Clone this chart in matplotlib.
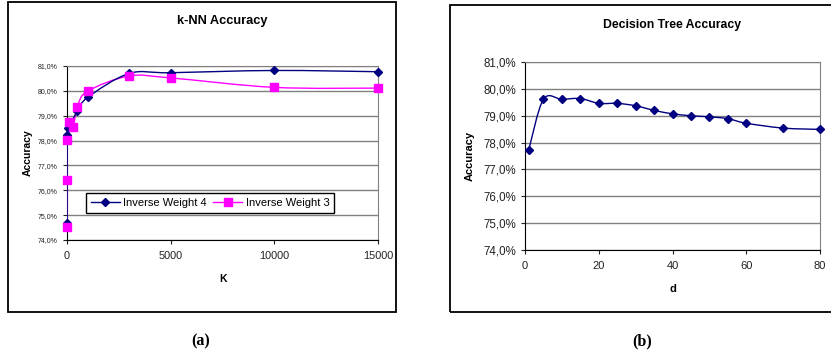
import matplotlib
matplotlib.use("Agg")
import matplotlib.pyplot as plt
import numpy as np
from matplotlib.path import Path
from matplotlib.patches import PathPatch, Rectangle
from matplotlib.lines import Line2D
from matplotlib.ticker import FuncFormatter

plt.rcParams['font.family'] = ['Liberation Sans', 'DejaVu Sans']

# k-NN data
k_w4 = [1, 10, 50, 500, 1000, 3000, 5000, 10000, 15000]
acc_w4 = [74.67, 78.21, 78.5, 79.17, 79.74, 80.70, 80.73, 80.82, 80.77]
k_w3 = [1, 5, 10, 100, 300, 500, 1000, 3000, 5000, 10000, 15000]
acc_w3 = [74.51, 76.40, 78.02, 78.74, 78.55, 79.37, 79.99, 80.60, 80.52, 80.14, 80.11]

# decision tree data
depth = [1, 5, 10, 15, 20, 25, 30, 35, 40, 45, 50, 55, 60, 70, 80]
acc_dt = [77.72, 79.61, 79.61, 79.64, 79.46, 79.46, 79.37, 79.20, 79.07,
          79.00, 78.96, 78.89, 78.72, 78.54, 78.49]

NAVY = '#000080'
MAGENTA = '#FF00FF'
GRID = '#808080'


def smooth_path(x, y):
    # Excel-like smoothed line: Catmull-Rom turned into cubic beziers
    p = np.column_stack([x, y]).astype(float)
    n = len(p)
    verts = [p[0]]
    codes = [Path.MOVETO]
    for i in range(n - 1):
        p0 = p[i - 1] if i > 0 else p[i]
        p3 = p[i + 2] if i + 2 < n else p[i + 1]
        c1 = p[i] + (p[i + 1] - p0) / 6.0
        c2 = p[i + 1] - (p3 - p[i]) / 6.0
        verts += [c1, c2, p[i + 1]]
        codes += [Path.CURVE4] * 3
    return Path(verts, codes)


pct = FuncFormatter(lambda v, pos: f"{v:.1f}%".replace('.', ','))

fig = plt.figure(figsize=(8.31, 3.57), dpi=100)

# outer chart frames
fig.patches.append(Rectangle((8 / 831, 45 / 357), 388 / 831, 310 / 357,
                             transform=fig.transFigure, fill=False,
                             edgecolor='black', lw=1.3))
fig.patches.append(Rectangle((450 / 831, 45 / 357), 400 / 831, 307 / 357,
                             transform=fig.transFigure, fill=False,
                             edgecolor='black', lw=1.3, clip_on=False))


def style_axes(ax):
    ax.yaxis.set_major_formatter(pct)
    ax.set_ylim(74, 81)
    ax.set_yticks(np.arange(74, 81.01, 1))
    ax.grid(axis='y', color=GRID, lw=1.0)
    ax.set_axisbelow(True)
    for s in ['top', 'right']:
        ax.spines[s].set_color(GRID)
    for s in ['left', 'bottom']:
        ax.spines[s].set_color('black')
    ax.tick_params(direction='out', length=3, width=0.8, colors='#222222')


# (a) k-NN
ax1 = fig.add_axes([67 / 831, 117 / 357, 311 / 831, 174 / 357])
style_axes(ax1)
ax1.set_xlim(0, 15000)
ax1.set_xticks([0, 5000, 10000, 15000])
ax1.tick_params(axis='y', labelsize=5)
ax1.tick_params(axis='x', labelsize=7.8, pad=5)
ax1.add_patch(PathPatch(smooth_path(k_w3, acc_w3), fill=False,
                        edgecolor=MAGENTA, lw=1.0, zorder=3))
ax1.add_patch(PathPatch(smooth_path(k_w4, acc_w4), fill=False,
                        edgecolor=NAVY, lw=1.0, zorder=3))
ax1.plot(k_w4, acc_w4, linestyle='none', marker='D', ms=4,
         color=NAVY, zorder=4, clip_on=False)
ax1.plot(k_w3, acc_w3, linestyle='none', marker='s', ms=6,
         color=MAGENTA, zorder=5, clip_on=False)
ax1.set_title('k-NN Accuracy', fontsize=9.2, fontweight='bold', pad=30)
ax1.set_xlabel('K', fontsize=7.5, fontweight='bold', labelpad=9)
ax1.set_ylabel('Accuracy', fontsize=7.5, fontweight='bold', labelpad=4)
handles = [Line2D([], [], color=NAVY, marker='D', ms=4, lw=1.0),
           Line2D([], [], color=MAGENTA, marker='s', ms=6, lw=1.0)]
leg = ax1.legend(handles, ['Inverse Weight 4', 'Inverse Weight 3'],
                 loc='lower left', bbox_to_anchor=(0.061, 0.155), ncol=2,
                 fontsize=8, frameon=True, fancybox=False, edgecolor='black',
                 framealpha=1, borderpad=0.45, handlelength=2.6,
                 handletextpad=0.3, columnspacing=0.6, borderaxespad=0)
leg.get_frame().set_linewidth(1.0)

# (b) decision tree
ax2 = fig.add_axes([525 / 831, 107 / 357, 295 / 831, 188 / 357])
style_axes(ax2)
ax2.set_xlim(0, 80)
ax2.set_xticks([0, 20, 40, 60, 80])
ax2.tick_params(axis='y', labelsize=8.3)
ax2.tick_params(axis='x', labelsize=8, pad=5)
ax2.add_patch(PathPatch(smooth_path(depth, acc_dt), fill=False,
                        edgecolor=NAVY, lw=1.0, zorder=3))
ax2.plot(depth, acc_dt, linestyle='none', marker='D', ms=4.5,
         color=NAVY, zorder=4, clip_on=False)
ax2.set_title('Decision Tree Accuracy', fontsize=8.8, fontweight='bold', pad=24.5)
ax2.set_xlabel('d', fontsize=8, fontweight='bold', labelpad=9)
ax2.set_ylabel('Accuracy', fontsize=8, fontweight='bold', labelpad=6)

fig.text(201 / 831, 1 - 341 / 357, '(a)', ha='center', va='center',
         fontsize=11.5, fontweight='bold', family='Liberation Serif')
fig.text(642 / 831, 1 - 341 / 357, '(b)', ha='center', va='center',
         fontsize=11.5, fontweight='bold', family='Liberation Serif')

fig.savefig('out.png', dpi=100)
